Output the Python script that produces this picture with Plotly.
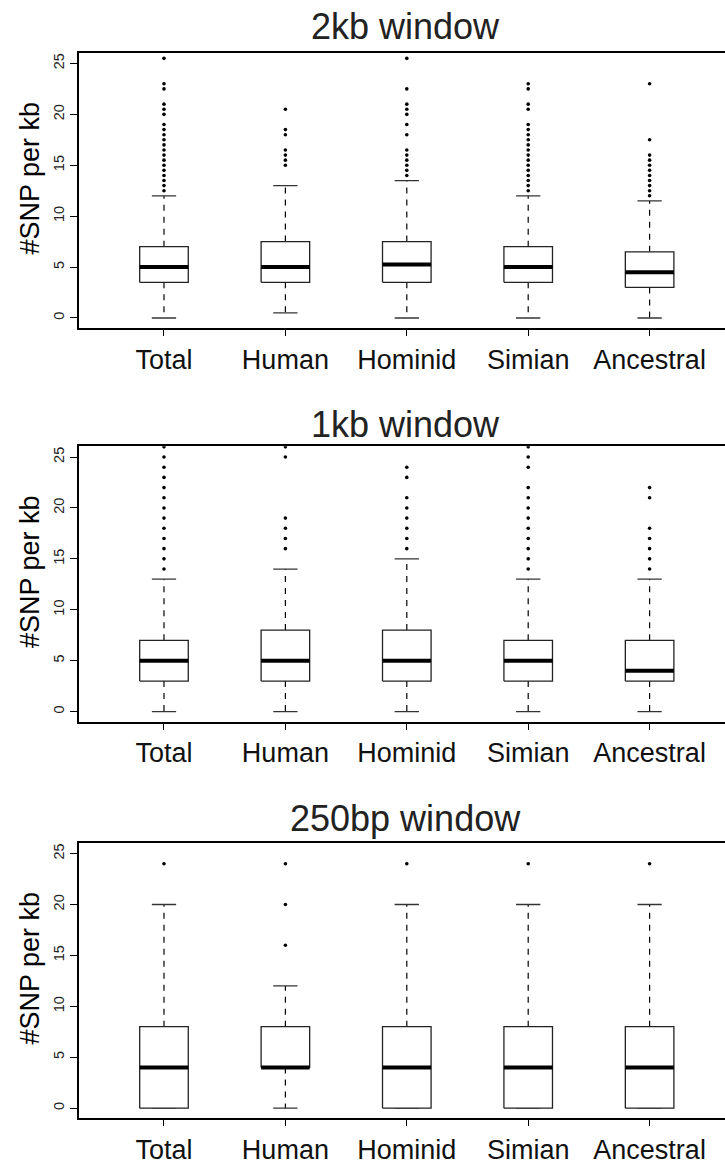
import plotly.graph_objects as go

# ---------------- data ----------------
categories = ["Total", "Human", "Hominid", "Simian", "Ancestral"]
panel_titles = ["2kb window", "1kb window", "250bp window"]
y_label = "#SNP per kb"
y_ticks = [0, 5, 10, 15, 20, 25]

# 2kb window
q1_2kb = [3.5, 3.5, 3.5, 3.5, 3.0]
med_2kb = [5.0, 5.0, 5.25, 5.0, 4.5]
q3_2kb = [7.0, 7.5, 7.5, 7.0, 6.5]
lo_2kb = [0.0, 0.5, 0.0, 0.0, 0.0]
hi_2kb = [12.0, 13.0, 13.5, 12.0, 11.5]
out_2kb = [
    [12.5, 13, 13.5, 14, 14.5, 15, 15.5, 16, 16.5, 17, 17.5, 18, 18.5, 19, 20, 20.5, 21, 22.5, 23, 25.5],
    [15, 15.5, 16, 16.5, 18, 18.5, 20.5],
    [14, 14.5, 15, 15.5, 16, 16.5, 18, 19, 20, 20.5, 21, 22.5, 25.5],
    [12.5, 13, 13.5, 14, 14.5, 15, 15.5, 16, 16.5, 17, 17.5, 18, 18.5, 19, 20.5, 21, 22.5, 23],
    [12, 12.5, 13, 13.5, 14, 14.5, 15, 15.5, 16, 17.5, 23],
]

# 1kb window
q1_1kb = [3, 3, 3, 3, 3]
med_1kb = [5, 5, 5, 5, 4]
q3_1kb = [7, 8, 8, 7, 7]
lo_1kb = [0, 0, 0, 0, 0]
hi_1kb = [13, 14, 15, 13, 13]
out_1kb = [
    [14, 15, 16, 17, 18, 19, 20, 21, 22, 23, 24, 25, 26],
    [16, 17, 18, 19, 25, 26],
    [16, 17, 18, 19, 20, 21, 23, 24],
    [14, 15, 16, 17, 18, 19, 20, 21, 22, 24, 25, 26],
    [14, 15, 16, 17, 18, 21, 22],
]

# 250bp window
q1_250 = [0, 4, 0, 0, 0]
med_250 = [4, 4, 4, 4, 4]
q3_250 = [8, 8, 8, 8, 8]
lo_250 = [0, 0, 0, 0, 0]
hi_250 = [20, 12, 20, 20, 20]
out_250 = [
    [24],
    [16, 20, 24],
    [24],
    [24],
    [24],
]

panels = [
    (q1_2kb, med_2kb, q3_2kb, lo_2kb, hi_2kb, out_2kb),
    (q1_1kb, med_1kb, q3_1kb, lo_1kb, hi_1kb, out_1kb),
    (q1_250, med_250, q3_250, lo_250, hi_250, out_250),
]

# ---------------- layout constants ----------------
W, H = 725, 1165
rows_px = [(53, 331), (450, 728), (850, 1128)]
left_px = 79
title_center_px = [27, 428, 826]
ylab_offset_px = -12
FONT = "Liberation Sans, Arial, Helvetica, sans-serif"
BOX_HALF = 0.2
CAP_HALF = 0.1

fig = go.Figure()

for k, (q1, med, q3, lo, hi, outs) in enumerate(panels):
    sfx = "" if k == 0 else str(k + 1)
    xa, ya = "x" + sfx, "y" + sfx
    pos = [i + 1 for i in range(len(categories))]

    # whiskers (dashed)
    wx, wy = [], []
    for i, x in enumerate(pos):
        wx += [x, x, None, x, x, None]
        wy += [q3[i], hi[i], None, q1[i], lo[i], None]
    fig.add_trace(go.Scatter(x=wx, y=wy, mode="lines", xaxis=xa, yaxis=ya,
                             line=dict(color="black", width=1.2, dash="6px,6px"),
                             hoverinfo="skip", showlegend=False))
    # caps
    cx, cy = [], []
    for i, x in enumerate(pos):
        cx += [x - CAP_HALF, x + CAP_HALF, None, x - CAP_HALF, x + CAP_HALF, None]
        cy += [hi[i], hi[i], None, lo[i], lo[i], None]
    fig.add_trace(go.Scatter(x=cx, y=cy, mode="lines", xaxis=xa, yaxis=ya,
                             line=dict(color="#333333", width=1.3),
                             hoverinfo="skip", showlegend=False))
    # boxes
    bx, by = [], []
    for i, x in enumerate(pos):
        bx += [x - BOX_HALF, x + BOX_HALF, x + BOX_HALF, x - BOX_HALF, x - BOX_HALF, None]
        by += [q1[i], q1[i], q3[i], q3[i], q1[i], None]
    fig.add_trace(go.Scatter(x=bx, y=by, mode="lines", fill="toself", fillcolor="white",
                             xaxis=xa, yaxis=ya,
                             line=dict(color="#222222", width=1.3),
                             hoverinfo="skip", showlegend=False))
    # medians
    mx, my = [], []
    for i, x in enumerate(pos):
        mx += [x - BOX_HALF, x + BOX_HALF, None]
        my += [med[i], med[i], None]
    fig.add_trace(go.Scatter(x=mx, y=my, mode="lines", xaxis=xa, yaxis=ya,
                             line=dict(color="black", width=4),
                             hoverinfo="skip", showlegend=False))
    # outliers
    ox, oy = [], []
    for i, x in enumerate(pos):
        ox += [x] * len(outs[i])
        oy += outs[i]
    fig.add_trace(go.Scatter(x=ox, y=oy, mode="markers", xaxis=xa, yaxis=ya,
                             marker=dict(color="black", size=3.6),
                             hoverinfo="skip", showlegend=False))

    top, bot = rows_px[k]
    dom = [1 - bot / H, 1 - top / H]
    fig.update_layout(**{
        "xaxis" + sfx: dict(domain=[left_px / W, 1], anchor=ya, range=[0.3, 5.621],
                            tickvals=pos, ticktext=categories, ticks="outside",
                            ticklen=6, tickwidth=1.2, tickcolor="black",
                            showline=True, mirror=True, linecolor="black", linewidth=2,
                            showgrid=False, zeroline=False,
                            tickfont=dict(family=FONT, size=27, color="#111111")),
        "yaxis" + sfx: dict(domain=dom, anchor=xa, range=[-1.0, 26.07],
                            tickvals=y_ticks, ticks="outside", ticklen=7, tickwidth=1.2,
                            tickcolor="black", tickangle=-90,
                            showline=True, linecolor="black", linewidth=2,
                            showgrid=False, zeroline=False,
                            tickfont=dict(family=FONT, size=14.5, color="#222222")),
    })
    fig.add_annotation(text=panel_titles[k], xref="paper", yref="paper",
                       x=405.5 / W, y=1 - title_center_px[k] / H,
                       xanchor="center", yanchor="middle", showarrow=False,
                       font=dict(family=FONT, size=36, color="#222222"))
    fig.add_annotation(text=y_label, xref="paper", yref="paper",
                       x=30 / W, y=1 - ((top + bot) / 2 + ylab_offset_px) / H,
                       xanchor="center", yanchor="middle", showarrow=False, textangle=-90,
                       font=dict(family=FONT, size=27, color="black"))

fig.update_layout(width=W, height=H, margin=dict(l=0, r=0, t=0, b=0),
                  paper_bgcolor="white", plot_bgcolor="white", showlegend=False)

fig.write_html("out.html")
